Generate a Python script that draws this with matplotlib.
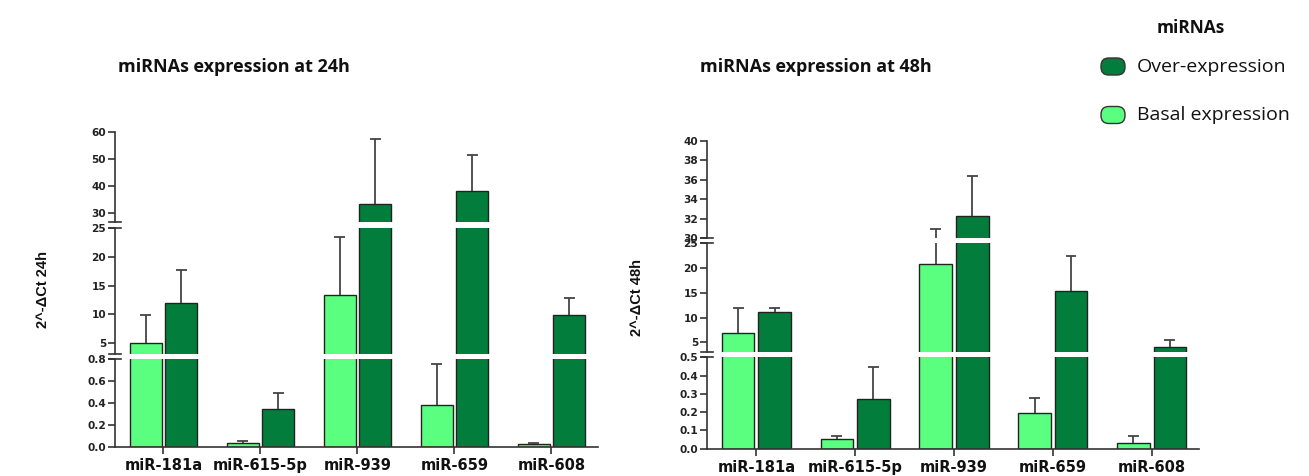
import matplotlib
matplotlib.use("Agg")
import matplotlib.pyplot as plt
import numpy as np
from matplotlib.patches import FancyBboxPatch

# ---- data ----
categories = ["miR-181a", "miR-615-5p", "miR-939", "miR-659", "miR-608"]

basal_24 = [5.0, 0.035, 13.4, 0.38, 0.022]
basal_24_err_top = [9.8, 0.05, 23.4, 0.755, 0.036]
over_24 = [12.0, 0.345, 33.3, 38.2, 9.8]
over_24_err_top = [17.7, 0.49, 57.3, 51.4, 12.9]

basal_48 = [7.0, 0.051, 20.8, 0.197, 0.033]
basal_48_err_top = [12.0, 0.069, 30.9, 0.275, 0.069]
over_48 = [11.1, 0.272, 32.25, 15.4, 4.0]
over_48_err_top = [11.9, 0.445, 36.4, 22.5, 5.45]

ticks_24 = {"bottom": [0.0, 0.2, 0.4, 0.6, 0.8],
            "middle": [5, 10, 15, 20, 25],
            "top": [30, 40, 50, 60]}
ticks_48 = {"bottom": [0.0, 0.1, 0.2, 0.3, 0.4, 0.5],
            "middle": [5, 10, 15, 20, 25],
            "top": [30, 32, 34, 36, 38, 40]}

LIGHT = "#5BFF80"
DARK = "#037D3C"
EDGE = "#222222"
ERR = "#444444"

W, H = 1309, 476
fig = plt.figure(figsize=(W / 100, H / 100), dpi=100)


def px_axes(x0, x1, y_bottom, y_top):
    return fig.add_axes([x0 / W, 1 - y_bottom / H, (x1 - x0) / W, (y_bottom - y_top) / H])


def draw_panel(x0, x1, segs, ticks, basal, basal_err, over, over_err, fmt_bottom):
    x = np.arange(len(categories))
    off = 0.185
    bw = 0.33
    axes = []
    names = ["bottom", "middle", "top"]
    for i, (name, (ylo, yhi, yb, yt)) in enumerate(zip(names, segs)):
        ax = px_axes(x0, x1, yb, yt)
        ax.bar(x - off, basal, bw, color=LIGHT, edgecolor=EDGE, linewidth=1.0, zorder=2)
        ax.bar(x + off, over, bw, color=DARK, edgecolor=EDGE, linewidth=1.0, zorder=2)
        for xs, vals, tops in [(x - off, basal, basal_err), (x + off, over, over_err)]:
            ax.vlines(xs, vals, tops, color=ERR, linewidth=1.3, zorder=3)
            ax.hlines(tops, xs - 0.055, xs + 0.055, color=ERR, linewidth=1.3, zorder=3)
        ax.set_ylim(ylo, yhi)
        ax.set_xlim(-0.5, 4.48)
        for s in ["top", "right"]:
            ax.spines[s].set_visible(False)
        ax.spines["left"].set_linewidth(1.2)
        ax.spines["left"].set_color("#333333")
        ax.set_yticks(ticks[name])
        if name == "bottom":
            ax.set_yticklabels([fmt_bottom.format(t) for t in ticks[name]])
            ax.spines["bottom"].set_linewidth(1.2)
            ax.spines["bottom"].set_color("#333333")
            ax.set_xticks(x)
            ax.set_xticklabels(categories, fontsize=10.5, fontweight="bold", color="#111111")
            ax.tick_params(axis="x", length=5, width=1.2, color="#333333", pad=3)
        else:
            ax.spines["bottom"].set_visible(False)
            ax.set_xticks([])
            ax.set_yticklabels([str(t) for t in ticks[name]])
        ax.tick_params(axis="y", length=5, width=1.2, color="#333333", pad=1.5,
                       labelsize=7.6, labelcolor="#222222")
        for lab in ax.get_yticklabels():
            lab.set_fontweight("bold")
        ax.patch.set_alpha(0)
        # break marks
        if name != "bottom":
            ax.plot([-0.012, 0.012], [0, 0], transform=ax.transAxes, color="#333333",
                    lw=1.2, clip_on=False)
        if name != "top":
            ax.plot([-0.012, 0.012], [1, 1], transform=ax.transAxes, color="#333333",
                    lw=1.2, clip_on=False)
        axes.append(ax)
    return axes


# panel segments: (ylo, yhi, y_pixel_bottom, y_pixel_top)
segs_24 = [(0.0, 0.8, 446.7, 359.0),
           (3.0, 25.0, 354.4, 228.3),
           (27.0, 60.0, 221.5, 131.7)]
segs_48 = [(0.0, 0.5, 448.7, 357.3),
           (3.0, 25.0, 352.4, 243.3),
           (30.0, 40.0, 238.0, 140.7)]

draw_panel(115, 598, segs_24, ticks_24, basal_24, basal_24_err_top, over_24, over_24_err_top, "{:.1f}")
draw_panel(707, 1199, segs_48, ticks_48, basal_48, basal_48_err_top, over_48, over_48_err_top, "{:.1f}")

# y labels
fig.text(43 / W, 1 - 290 / H, "2^-ΔCt 24h", rotation=90, ha="center", va="center",
         fontsize=10.5, fontweight="bold", family="Liberation Sans", color="#111111")
fig.text(637 / W, 1 - 297 / H, "2^-ΔCt 48h", rotation=90, ha="center", va="center",
         fontsize=10.5, fontweight="bold", family="Liberation Sans", color="#111111")

# titles
fig.text(118 / W, 1 - 67 / H, "miRNAs expression at 24h", ha="left", va="center",
         fontsize=13, fontweight="bold", family="Open Sans", color="#111111")
fig.text(700 / W, 1 - 67 / H, "miRNAs expression at 48h", ha="left", va="center",
         fontsize=13, fontweight="bold", family="Open Sans", color="#111111")

# legend
fig.text(1191 / W, 1 - 28 / H, "miRNAs", ha="center", va="center",
         fontsize=12.5, fontweight="bold", family="Open Sans", color="#111111")
for (yc, col, lab) in [(66.5, DARK, "Over-expression"), (115, LIGHT, "Basal expression")]:
    p = FancyBboxPatch((1101 / W, 1 - (yc + 8.5) / H), 24 / W, 17 / H,
                       boxstyle="round,pad=0,rounding_size=0.006",
                       transform=fig.transFigure, facecolor=col, edgecolor="#333333",
                       linewidth=1.0, mutation_aspect=W / H)
    fig.patches.append(p)
    fig.text(1137 / W, 1 - yc / H, lab, ha="left", va="center", fontsize=14,
             family="Open Sans", color="#111111")

fig.savefig("out.png", dpi=100)
